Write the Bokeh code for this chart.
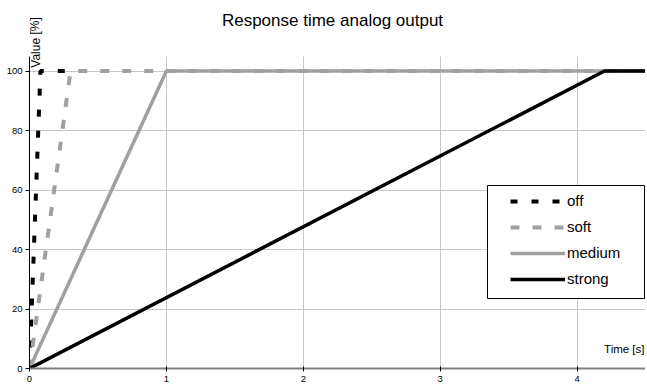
from bokeh.plotting import figure
from bokeh.models import Label, Legend, LegendItem, FixedTicker, Range1d, BoxAnnotation
from bokeh.embed import file_html
from bokeh.resources import INLINE

# data
t_off = [0, 0.08, 0.3]
v_off = [0, 100, 100]
t_soft = [0, 0.3, 4.5]
v_soft = [0, 100, 100]
t_medium = [0, 1.0, 4.5]
v_medium = [0, 100, 100]
t_strong = [0, 4.2, 4.5]
v_strong = [0, 100, 100]
x_ticks = [0, 1, 2, 3, 4]
y_ticks = [0, 20, 40, 60, 80, 100]

FONT = "Liberation Sans"

p = figure(width=645, height=385, output_backend="svg", toolbar_location=None,
           x_range=Range1d(0, 4.5), y_range=Range1d(0, 123.7),
           min_border_left=29, min_border_right=0, min_border_top=0, min_border_bottom=17)
p.outline_line_color = None
p.background_fill_color = "white"

r_off = p.line(t_off, v_off, line_color="black", line_width=4, line_dash="7 14")
r_soft = p.line(t_soft, v_soft, line_color="#a0a0a0", line_width=4, line_dash="9 13")
r_med = p.line(t_medium, v_medium, line_color="#a0a0a0", line_width=3.5)
r_str = p.line(t_strong, v_strong, line_color="black", line_width=3.5)

# axes
p.xaxis.ticker = FixedTicker(ticks=x_ticks)
p.yaxis.ticker = FixedTicker(ticks=y_ticks)
p.yaxis.bounds = (0, 105)
for ax in (p.xaxis, p.yaxis):
    ax.major_label_text_font = FONT
    ax.major_label_text_font_size = "9.5px"
    ax.major_label_text_color = "black"
    ax.minor_tick_line_color = None
    ax.major_tick_line_color = "black"
p.xaxis.axis_line_color = "#808080"
p.xaxis.axis_line_width = 2
p.xaxis.major_tick_in = 2
p.xaxis.major_tick_out = 3
p.xaxis.major_label_standoff = 4
p.yaxis.axis_line_color = "black"
p.yaxis.major_tick_in = 0
p.yaxis.major_tick_out = 4
p.yaxis.major_label_standoff = 3

p.xgrid.grid_line_color = "#c8c8c8"
p.ygrid.grid_line_color = "#c8c8c8"
p.xgrid.grid_line_width = 1
p.ygrid.grid_line_width = 1
g = p.xgrid[0]
if "cross_bounds" in g.properties():
    g.cross_bounds = (0, 105)

# legend frame
box = BoxAnnotation(left=458, right=615, bottom=70, top=183,
                    left_units="screen", right_units="screen",
                    bottom_units="screen", top_units="screen",
                    fill_color="white", fill_alpha=1,
                    line_color="black", line_width=1, line_alpha=1)
p.add_layout(box)

legend = Legend(items=[
    LegendItem(label="off", renderers=[r_off]),
    LegendItem(label="soft", renderers=[r_soft]),
    LegendItem(label="medium", renderers=[r_med]),
    LegendItem(label="strong", renderers=[r_str]),
], location=(481, 81))
legend.border_line_color = None
legend.background_fill_alpha = 0
legend.padding = 0
legend.margin = 0
legend.spacing = 9
legend.glyph_width = 55
legend.glyph_height = 16
legend.label_height = 16
legend.label_standoff = 2
legend.label_text_font = FONT
legend.label_text_font_size = "15px"
legend.label_text_color = "black"
p.add_layout(legend)

p.add_layout(Label(x=303, y=348, x_units="screen", y_units="screen",
                   text="Response time analog output", text_font=FONT,
                   text_font_size="17px", text_align="center", text_baseline="middle",
                   text_color="black"))
p.add_layout(Label(x=615, y=20, x_units="screen", y_units="screen",
                   text="Time [s]", text_font=FONT, text_font_size="11.5px",
                   text_align="right", text_baseline="middle", text_color="black"))
p.add_layout(Label(x=6, y=326, x_units="screen", y_units="screen",
                   text="Value [%]", text_font=FONT, text_font_size="12px",
                   text_align="center", text_baseline="middle", angle=1.5708,
                   text_color="black"))

open("out.html", "w").write(file_html(p, INLINE))
